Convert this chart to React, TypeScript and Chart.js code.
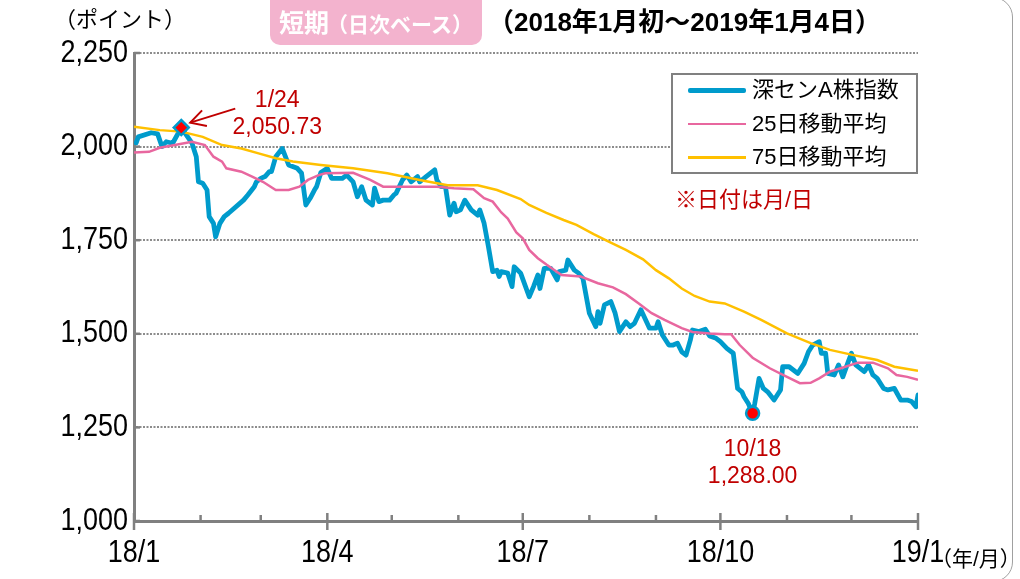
import React, { useEffect, useRef } from 'react';
import { Chart, registerables } from 'chart.js';

Chart.register(...registerables);

// ---------------- data ----------------
// x values are calendar days counted from 2018-01-01 (day 0); 365 = 2019-01-01
const monthTickDays = [0, 31, 59, 90, 120, 151, 181, 212, 243, 273, 304, 334, 365];
const monthTickLabels = ['18/1', '', '', '18/4', '', '', '18/7', '', '', '18/10', '', '', '19/1'];
const yTickValues = [1000, 1250, 1500, 1750, 2000, 2250];

const indexDays = [
  1, 2, 8, 11, 13, 15, 18, 22, 27, 29, 30, 32, 34, 35, 37, 38, 40, 42, 44, 51, 53, 56, 57, 59, 61, 63, 64, 66, 69,
  72, 76, 78, 80, 82, 84, 85, 87, 90, 92, 97, 99, 102, 104, 106, 108, 111, 112, 114, 116, 119, 121, 122, 125, 127,
  129, 132, 133, 136, 140, 141, 143, 145, 147, 149, 150, 152, 154, 157, 160, 161, 163, 165, 167, 169, 170, 171, 174,
  176, 177, 180, 184, 186, 188, 189, 191, 194, 197, 198, 201, 202, 205, 207, 209, 212, 215, 216, 217, 219, 222, 224,
  226, 229, 231, 233, 236, 240, 243, 244, 246, 249, 251, 253, 255, 257, 259, 260, 263, 266, 268, 271, 273, 276, 279,
  281, 283, 284, 286, 288, 289, 291, 293, 295, 298, 301, 302, 305, 309, 312, 314, 316, 319, 320, 322, 323, 326, 328,
  330, 332, 334, 336, 340, 342, 344, 346, 349, 351, 354, 357, 360, 362, 364, 365,
];
const indexValues = [
  2010, 2026, 2037, 2034, 2000, 2013, 2009, 2050.73, 2009, 1973, 1906, 1902, 1884, 1813, 1795, 1759, 1795, 1813, 1822,
  1857, 1871, 1893, 1906, 1915, 1920, 1933, 1933, 1973, 1995,
  1951, 1942, 1929, 1844, 1862, 1884, 1893, 1931, 1942, 1915, 1915, 1924, 1906, 1866, 1893, 1857, 1844, 1889, 1853,
  1857, 1857, 1871, 1875, 1911, 1924,
  1906, 1920, 1906, 1920, 1938, 1911, 1893, 1893, 1817, 1849, 1826, 1831, 1857, 1831, 1817, 1831, 1795, 1733, 1666,
  1670, 1653, 1666, 1662,
  1626, 1679, 1662, 1599, 1626, 1657, 1621, 1675, 1675, 1644, 1666, 1670, 1697, 1670, 1662, 1648, 1555, 1519, 1559,
  1528, 1577, 1586, 1555,
  1506, 1532, 1519, 1528, 1564, 1515, 1515, 1532, 1497, 1470, 1470, 1475, 1452, 1443, 1483, 1510, 1506, 1512, 1494,
  1488, 1479, 1461, 1448,
  1354, 1345, 1332, 1314, 1288, 1314, 1381, 1354, 1345, 1323, 1350, 1412, 1412, 1394, 1421, 1452, 1470, 1479, 1448,
  1448, 1394, 1390, 1417,
  1385, 1417, 1448, 1417, 1399, 1417, 1390, 1381, 1354, 1350, 1354, 1323, 1323, 1319, 1305, 1337,
];

const ma25Days = [
  0, 7, 12, 19, 27, 33, 37, 41, 43, 50, 55, 60, 66, 72, 77, 81, 86, 89, 102, 110, 116, 126, 141, 149, 158, 163, 167,
  171, 174, 178, 181, 184, 188, 192, 199, 208, 216, 223, 229, 235, 241, 247, 255, 260, 268, 275, 278, 282, 288, 296,
  304, 310, 315, 319, 324, 329, 337, 344, 351, 355, 360, 365,
];
const ma25Values = [
  1984, 1986, 1997, 2004, 2013, 2004, 1973, 1960, 1942, 1933, 1920, 1906, 1884, 1884, 1893, 1911, 1924, 1929, 1930,
  1911, 1893, 1893, 1893, 1889, 1886, 1862, 1853, 1824, 1808, 1771, 1755, 1724, 1702, 1685, 1657, 1653, 1635, 1624,
  1606, 1581, 1555, 1537, 1515, 1505, 1501, 1499, 1499, 1470, 1436, 1408, 1385, 1368, 1369, 1381, 1399, 1408, 1423,
  1423, 1408, 1390, 1385, 1377,
];

const ma75Days = [
  0, 12, 22, 32, 41, 50, 58, 66, 74, 87, 102, 118, 133, 146, 160, 169, 180, 184, 192, 200, 206, 214, 221, 229, 237,
  243, 249, 255, 261, 268, 275, 284, 292, 304, 315, 324, 335, 346, 354, 365,
];
const ma75Values = [
  2053, 2044, 2040, 2026, 2004, 1995, 1982, 1969, 1960, 1951, 1942, 1929, 1911, 1897, 1897, 1884, 1860, 1844, 1823,
  1804, 1791, 1766, 1746, 1724, 1699, 1670, 1648, 1621, 1601, 1586, 1581, 1559, 1537, 1501, 1475, 1457, 1443, 1430,
  1412, 1401,
];

const seriesNames = ['深センA株指数', '25日移動平均', '75日移動平均'];

const peakDay = 22;
const peakValue = 2050.73;
const peakLabel = '1/24';
const lowDay = 288;
const lowValue = 1288.0;
const lowLabel = '10/18';

// ---------------- styles ----------------
const BLUE = '#009BCC';
const PINK = '#E8679F';
const YELLOW = '#FFC000';
const RED_TEXT = '#C00000';
const AXIS_GRAY = '#808080';
const LATIN = '"Liberation Sans", Arial, "Noto Sans CJK JP", sans-serif';
const TICK_FONT = '31px "Liberation Sans", Arial, sans-serif';
const TICK_SQUEEZE = 0.87;

const fmt2 = (v: number) => v.toLocaleString('en-US', { minimumFractionDigits: 2, maximumFractionDigits: 2 });
const fmt0 = (v: number) => v.toLocaleString('en-US');

const decorPlugin = {
  id: 'decor',
  beforeDatasetsDraw(chart: any) {
    const { ctx, chartArea, scales } = chart;
    const xs = scales.x;
    const ys = scales.y;
    ctx.save();
    ctx.strokeStyle = AXIS_GRAY;
    ctx.lineWidth = 2.5;
    yTickValues.forEach((v) => {
      const y = ys.getPixelForValue(v);
      ctx.beginPath();
      ctx.moveTo(chartArea.left, y);
      ctx.lineTo(chartArea.left + 6, y);
      ctx.stroke();
    });
    monthTickDays.forEach((d, i) => {
      const x = xs.getPixelForValue(d);
      const major = monthTickLabels[i] !== '';
      ctx.beginPath();
      ctx.moveTo(x, chartArea.bottom - (major ? 8 : 6));
      ctx.lineTo(x, chartArea.bottom + (major ? 9 : 0));
      ctx.stroke();
    });

    // tick labels (condensed, like the original's narrow face)
    ctx.fillStyle = '#000';
    ctx.font = TICK_FONT;
    ctx.textBaseline = 'middle';
    ctx.textAlign = 'right';
    yTickValues.forEach((v) => {
      const y = ys.getPixelForValue(v);
      ctx.save();
      ctx.translate(chartArea.left - 6, y);
      ctx.scale(TICK_SQUEEZE, 1);
      ctx.fillText(fmt0(v), 0, 0);
      ctx.restore();
    });
    ctx.textAlign = 'center';
    monthTickDays.forEach((d, i) => {
      const lab = monthTickLabels[i];
      if (!lab) return;
      const x = xs.getPixelForValue(d);
      ctx.save();
      ctx.translate(x, chartArea.bottom + 32);
      ctx.scale(TICK_SQUEEZE, 1);
      ctx.fillText(lab, 0, 0);
      ctx.restore();
    });
    ctx.restore();
  },
  afterDatasetsDraw(chart: any) {
    const { ctx, scales } = chart;
    const xs = scales.x;
    const ys = scales.y;
    ctx.save();
    ctx.fillStyle = RED_TEXT;
    ctx.font = '23px ' + LATIN;
    ctx.textAlign = 'center';
    ctx.textBaseline = 'middle';
    const px = xs.getPixelForValue(peakDay);
    const py = ys.getPixelForValue(peakValue);
    ctx.fillText(peakLabel, px + 96, py - 27);
    ctx.fillText(fmt2(peakValue), px + 96, py);
    // arrow
    ctx.strokeStyle = RED_TEXT;
    ctx.lineWidth = 2;
    const tx = px + 9;
    const ty = py - 5;
    const sx = px + 54;
    const sy = py - 19;
    ctx.beginPath();
    ctx.moveTo(sx, sy);
    ctx.lineTo(tx, ty);
    ctx.stroke();
    const ang = Math.atan2(ty - sy, tx - sx);
    const L = 17;
    ctx.beginPath();
    ctx.moveTo(tx - L * Math.cos(ang - 0.5), ty - L * Math.sin(ang - 0.5));
    ctx.lineTo(tx, ty);
    ctx.lineTo(tx - L * Math.cos(ang + 0.5), ty - L * Math.sin(ang + 0.5));
    ctx.stroke();

    const lx = xs.getPixelForValue(lowDay);
    const ly = ys.getPixelForValue(lowValue);
    ctx.fillText(lowLabel, lx, ly + 36);
    ctx.fillText(fmt2(lowValue), lx, ly + 63);
    ctx.restore();
  },
};

const Txt = (p: { x: number; cy: number; size: number; children: any; color?: string; bold?: boolean; font?: string }) => (
  <div
    style={{
      position: 'absolute',
      left: p.x,
      top: p.cy - p.size / 2,
      fontSize: p.size,
      lineHeight: p.size + 'px',
      height: p.size,
      whiteSpace: 'nowrap',
      color: p.color || '#000',
      fontWeight: p.bold ? 'bold' : 'normal',
      fontFamily: p.font || LATIN,
    }}
  >
    {p.children}
  </div>
);

export default function App() {
  const canvasRef = useRef<HTMLCanvasElement | null>(null);

  useEffect(() => {
    document.body.style.margin = '0';
    const canvas = canvasRef.current;
    if (!canvas) return;
    const toXY = (xs: number[], ys: number[]) => xs.map((x, i) => ({ x, y: ys[i] }));
    const chart = new Chart(canvas, {
      type: 'line',
      data: {
        datasets: [
          {
            label: 'markers',
            data: [
              { x: peakDay, y: peakValue },
              { x: lowDay, y: lowValue },
            ],
            showLine: false,
            pointStyle: ['rectRot', 'circle'] as any,
            pointRadius: [7.5, 6.5],
            pointBackgroundColor: '#FF0000',
            pointBorderColor: BLUE,
            pointBorderWidth: 2.5,
            order: 0,
          },
          {
            label: seriesNames[2],
            data: toXY(ma75Days, ma75Values),
            borderColor: YELLOW,
            borderWidth: 2.5,
            pointRadius: 0,
            tension: 0,
            order: 1,
          },
          {
            label: seriesNames[1],
            data: toXY(ma25Days, ma25Values),
            borderColor: PINK,
            borderWidth: 2.5,
            pointRadius: 0,
            tension: 0,
            order: 2,
          },
          {
            label: seriesNames[0],
            data: toXY(indexDays, indexValues),
            borderColor: BLUE,
            borderWidth: 4.8,
            borderJoinStyle: 'round',
            borderCapStyle: 'round',
            pointRadius: 0,
            tension: 0,
            order: 3,
          },
        ],
      },
      options: {
        animation: false,
        responsive: false,
        devicePixelRatio: 1,
        events: [],
        layout: { padding: { top: 53, right: 102, left: 0, bottom: 0 } },
        plugins: { legend: { display: false }, tooltip: { enabled: false } },
        scales: {
          x: {
            type: 'linear',
            min: monthTickDays[0],
            max: monthTickDays[monthTickDays.length - 1],
            afterBuildTicks: (s: any) => {
              s.ticks = monthTickDays.map((v) => ({ value: v }));
            },
            afterFit: (s: any) => {
              s.height = 58;
            },
            ticks: { display: false },
            grid: { display: false },
            border: { display: true, color: AXIS_GRAY, width: 3 },
          },
          y: {
            type: 'linear',
            min: yTickValues[0],
            max: yTickValues[yTickValues.length - 1],
            afterBuildTicks: (s: any) => {
              s.ticks = yTickValues.map((v) => ({ value: v }));
            },
            afterFit: (s: any) => {
              s.width = 134;
            },
            ticks: { display: false },
            grid: { color: '#8C8C8C', lineWidth: 2, drawTicks: false },
            border: { display: true, color: AXIS_GRAY, width: 3, dash: [2, 1.5] },
          },
        },
      } as any,
      plugins: [decorPlugin],
    });
    return () => chart.destroy();
  }, []);

  return (
    <div
      style={{
        position: 'absolute',
        left: 0,
        top: 0,
        width: 1020,
        height: 579,
        overflow: 'hidden',
        background: '#fff',
        fontFamily: LATIN,
      }}
    >
      <canvas
        ref={canvasRef}
        width={1020}
        height={579}
        style={{ position: 'absolute', left: 0, top: 0, width: 1020, height: 579 }}
      />
      {/* outer rounded frame */}
      <div
        style={{
          position: 'absolute',
          left: -30,
          top: -3,
          width: 1043,
          height: 585,
          boxSizing: 'border-box',
          border: '1.5px solid #A0A0A0',
          borderRadius: 20,
        }}
      />
      {/* title */}
      <Txt x={54} cy={20} size={22}>（ポイント）</Txt>
      <div
        style={{
          position: 'absolute',
          left: 270,
          top: -12,
          width: 212,
          height: 57,
          background: '#F3B3CE',
          borderRadius: 10,
        }}
      />
      <Txt x={279} cy={23} size={25} color="#fff" bold>
        短期
      </Txt>
      <Txt x={327} cy={24} size={21} color="#fff" bold>
        （日次ベース）
      </Txt>
      <Txt x={488} cy={22} size={26} bold>
        （2018年1月初～2019年1月4日）
      </Txt>
      {/* legend */}
      <div
        style={{
          position: 'absolute',
          left: 671,
          top: 73,
          width: 247,
          height: 101,
          boxSizing: 'border-box',
          border: '2px solid #808080',
          background: '#fff',
        }}
      />
      <div style={{ position: 'absolute', left: 688, top: 88, width: 58, height: 4.5, background: BLUE, borderRadius: 2 }} />
      <div style={{ position: 'absolute', left: 688, top: 122.5, width: 58, height: 2.5, background: PINK }} />
      <div style={{ position: 'absolute', left: 688, top: 156, width: 58, height: 2.5, background: YELLOW }} />
      <Txt x={752} cy={90} size={22}>
        {seriesNames[0]}
      </Txt>
      <Txt x={752} cy={123.5} size={22}>
        {seriesNames[1]}
      </Txt>
      <Txt x={752} cy={157} size={22}>
        {seriesNames[2]}
      </Txt>
      <Txt x={675} cy={200} size={22} color={RED_TEXT}>
        ※日付は月/日
      </Txt>
      <Txt x={931} cy={558} size={21}>
        （年/月）
      </Txt>
    </div>
  );
}
